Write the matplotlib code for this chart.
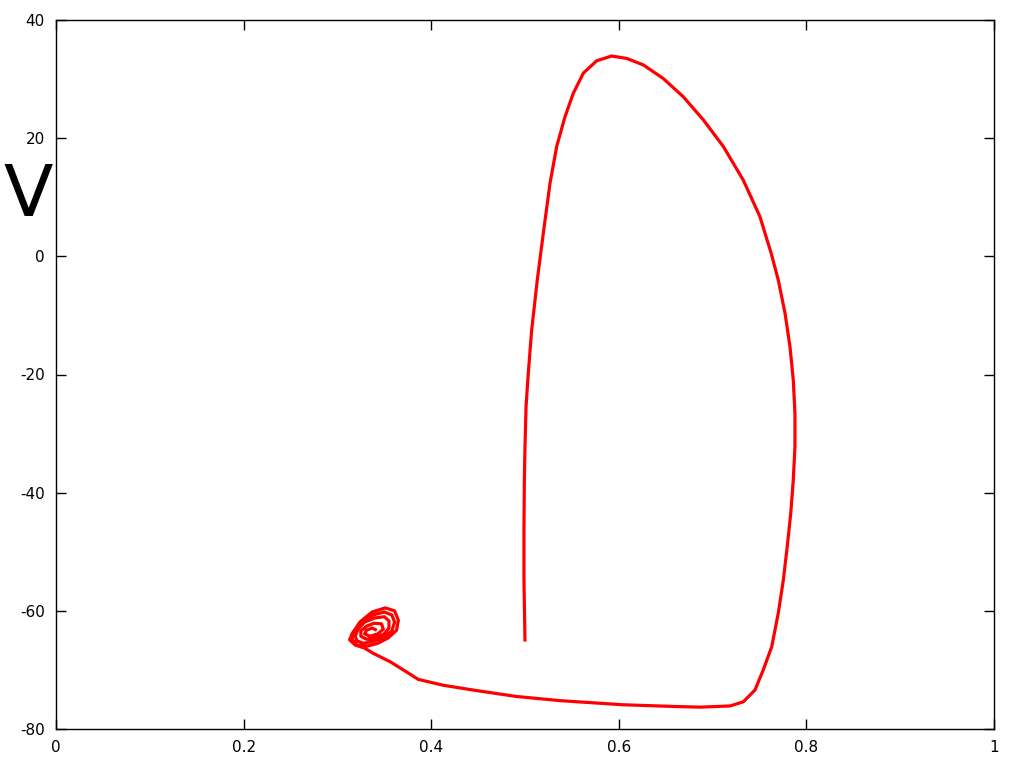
import matplotlib
matplotlib.use('Agg')
from matplotlib import pyplot as plt

plt.rcParams['axes.unicode_minus'] = False

# main trajectory (w, V)
w_main = [0.5000, 0.4989, 0.4989, 0.4993, 0.5000, 0.5011, 0.5035, 0.5071, 0.5131, 0.5195,
          0.5267, 0.5338, 0.5426, 0.5515, 0.5622, 0.5764, 0.5924, 0.6084, 0.6261, 0.6474,
          0.6688, 0.6901, 0.7114, 0.7327, 0.7505, 0.7625, 0.7700, 0.7772, 0.7825, 0.7860,
          0.7878, 0.7878, 0.7860, 0.7833, 0.7796, 0.7754, 0.7700, 0.7630, 0.7540, 0.7452,
          0.7327, 0.7186, 0.6866, 0.6617, 0.6048, 0.5373, 0.4912, 0.4485, 0.4129, 0.3862,
          0.3703, 0.3561, 0.3383]
v_main = [-65.2, -54.8, -46.3, -37.9, -32.2, -25.5, -19.8, -12.5, -4.0, 3.9,
          12.4, 18.6, 23.6, 27.6, 31.0, 33.1, 33.9, 33.5, 32.4, 30.1,
          27.0, 23.1, 18.6, 12.9, 6.7, 0.5, -4.0, -9.6, -15.3, -20.9,
          -26.6, -32.2, -37.9, -43.5, -49.1, -54.8, -60.4, -66.1, -70.0, -73.4,
          -75.4, -76.1, -76.3, -76.2, -75.9, -75.2, -74.5, -73.5, -72.6, -71.6,
          -70.0, -68.6, -67.2]

# spiral into the rest state
w_spiral = [0.329, 0.319, 0.313, 0.316, 0.324, 0.337, 0.351, 0.361, 0.365,
            0.363, 0.354, 0.343, 0.331, 0.321, 0.316, 0.316, 0.326, 0.338, 0.350,
            0.358, 0.361, 0.358, 0.350, 0.339, 0.328, 0.321, 0.319, 0.322, 0.329,
            0.340, 0.350, 0.355, 0.355, 0.350, 0.340, 0.331, 0.325, 0.325, 0.331,
            0.339, 0.347, 0.349, 0.343, 0.335, 0.329, 0.331, 0.337, 0.342]
v_spiral = [-66.3, -65.8, -64.9, -63.8, -61.9, -60.2, -59.5, -60.0, -61.6,
            -63.3, -64.6, -65.5, -66.0, -65.8, -64.9, -63.8, -62.2, -60.7, -60.2,
            -60.7, -61.9, -63.4, -64.5, -65.1, -65.5, -65.1, -64.3, -63.1, -61.9,
            -61.2, -61.0, -61.7, -62.9, -63.9, -64.6, -64.8, -64.3, -63.4, -62.6,
            -62.1, -62.2, -63.1, -63.9, -64.3, -63.9, -63.3, -62.9, -63.3]

xticks = [0, 0.2, 0.4, 0.6, 0.8, 1]
xlabels = ['0', '0.2', '0.4', '0.6', '0.8', '1']
yticks = [-80, -60, -40, -20, 0, 20, 40]

fig = plt.figure(figsize=(10.24, 7.68), dpi=100)
ax = fig.add_axes([56 / 1024, 1 - 729 / 768, 938 / 1024, 709 / 768])

ax.plot(w_main + w_spiral, v_main + v_spiral, color='#ff0000', lw=2.3,
        solid_joinstyle='round', solid_capstyle='butt')

ax.set_xlim(0, 1)
ax.set_ylim(-80, 40)
ax.set_xticks(xticks)
ax.set_xticklabels(xlabels)
ax.set_yticks(yticks)
ax.tick_params(direction='in', length=7, width=1, top=True, right=True,
               labelsize=11, pad=8)
for s in ax.spines.values():
    s.set_linewidth(1)

fig.text(28 / 1024, 1 - 197 / 768, 'V', fontsize=52, ha='center', va='center')

fig.savefig('out.png', dpi=100)
